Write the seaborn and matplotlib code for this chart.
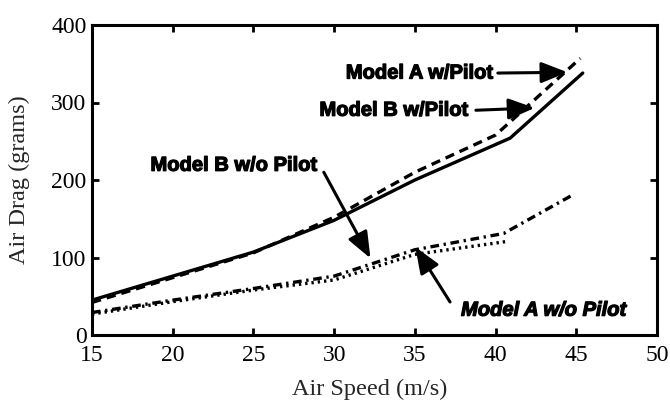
import matplotlib
matplotlib.use("Agg")
import matplotlib.pyplot as plt
import matplotlib.patheffects as pe
import seaborn as sns
import pandas as pd

# ---- data ----
speed_a_wp = [15, 20, 25, 30, 35, 40, 45.25]
drag_a_wp = [42, 74, 106, 152, 210, 258, 357]
speed_b_wp = [15, 20, 25, 30, 35, 40.9, 45.4]
drag_b_wp = [45, 76, 107, 148, 200, 254, 338]
speed_a_wo = [15, 20, 25, 30, 35, 40.5, 44.8]
drag_a_wo = [29, 45, 60, 76, 110, 131, 181]
speed_b_wo = [15, 20, 25, 30, 35, 40.8]
drag_b_wo = [27, 43, 58, 71, 104, 121]

names = ["Model A w/Pilot", "Model B w/Pilot", "Model A w/o Pilot", "Model B w/o Pilot"]
x_ticks = [15, 20, 25, 30, 35, 40, 45, 50]
y_ticks = [0, 100, 200, 300, 400]

frames = []
for n, xs, ys in zip(names, [speed_a_wp, speed_b_wp, speed_a_wo, speed_b_wo],
                     [drag_a_wp, drag_b_wp, drag_a_wo, drag_b_wo]):
    frames.append(pd.DataFrame({"series": n, "speed": xs, "drag": ys}))
df = pd.concat(frames, ignore_index=True)

sns.set_theme(style="ticks")
plt.rcParams["font.family"] = ["Liberation Serif", "DejaVu Serif"]

fig = plt.figure(figsize=(6.7, 4.04), dpi=100)
ax = fig.add_axes([92 / 670, 1 - 335 / 404, 565 / 670, 310 / 404])

dashes = {
    "Model A w/Pilot": (2.8, 1.8),
    "Model B w/Pilot": "",
    "Model A w/o Pilot": (2.6, 1.4, 0.7, 1.4),
    "Model B w/o Pilot": (0.7, 1.2),
}
sns.lineplot(data=df, x="speed", y="drag", hue="series", style="series",
             palette={n: "black" for n in names}, dashes=dashes,
             linewidth=2.4, legend=False, sort=True, ax=ax)

ax.set_xlim(15, 50)
ax.set_ylim(0, 400)
ax.set_xticks(x_ticks)
ax.set_yticks(y_ticks)
ax.tick_params(direction="in", top=True, right=True, length=5, width=2,
               labelsize=17, colors="black")
ax.tick_params(axis="x", pad=7)
ax.tick_params(axis="y", pad=4)
for s in ax.spines.values():
    s.set_visible(True)
    s.set_linewidth(2.2)
    s.set_color("black")

ax.set_xlabel("Air Speed (m/s)", fontsize=17.5)
ax.set_ylabel("Air Drag (grams)", fontsize=17.5)
ax.xaxis.set_label_coords(0.491, -0.175)
ax.yaxis.set_label_coords(-0.128, 0.5)
ax.xaxis.label.set_va("center")
ax.yaxis.label.set_va("center")

txt_kw = dict(fontsize=14.5, fontweight="bold", family=["Liberation Sans", "DejaVu Sans"],
              color="black", va="center",
              path_effects=[pe.withStroke(linewidth=0.9, foreground="black")])
arrow_kw = dict(arrowstyle="-|>,head_length=0.8,head_width=0.32", color="black",
                lw=2.2, mutation_scale=20, shrinkA=0, shrinkB=0)

ax.text(39.83, 338, "Model A w/Pilot", ha="right", **txt_kw)
ax.annotate("", xy=(44.45, 339), xytext=(40.14, 338), arrowprops=arrow_kw)

ax.text(38.29, 290, "Model B w/Pilot", ha="right", **txt_kw)
ax.annotate("", xy=(42.42, 293), xytext=(38.78, 290), arrowprops=arrow_kw)

ax.text(28.93, 219, "Model B w/o Pilot", ha="right", **txt_kw)
ax.annotate("", xy=(32.25, 99), xytext=(29.36, 210), arrowprops=arrow_kw)

ax.text(37.86, 32, "Model A w/o Pilot", ha="left", style="italic", **txt_kw)
ax.annotate("", xy=(35.03, 113.5), xytext=(37.18, 42.6), arrowprops=arrow_kw)

fig.savefig("out.png", dpi=100, facecolor="white")
